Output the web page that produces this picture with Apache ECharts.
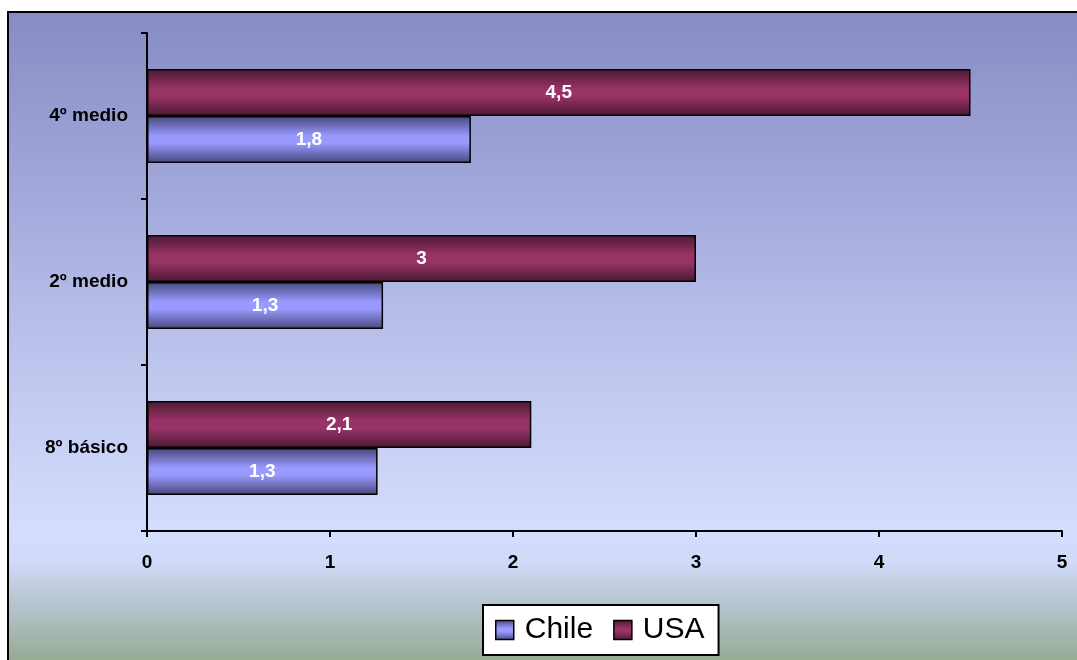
<!DOCTYPE html>
<html>
<head>
<meta charset="utf-8">
<script src="https://cdn.jsdelivr.net/npm/echarts@6/dist/echarts.min.js"></script>
<style>
html,body{margin:0;padding:0;background:#fff;}
#c{width:1077px;height:660px;}
</style>
</head>
<body>
<div id="c"></div>
<script>
var categories = ['8º básico', '2º medio', '4º medio'];
var chileValues = [1.26, 1.29, 1.77];
var usaValues = [2.1, 3.0, 4.5];
var xTicks = [0, 1, 2, 3, 4, 5];

function fmt(v) {
  return String(Number(v.toFixed(1))).replace('.', ',');
}
function barGrad(edge, mid) {
  return new echarts.graphic.LinearGradient(0, 0, 0, 1, [
    {offset: 0, color: edge},
    {offset: 0.42, color: mid},
    {offset: 0.58, color: mid},
    {offset: 1, color: edge}
  ]);
}
var chileColor = barGrad('#46467a', '#9999ff');
var usaColor = barGrad('#4a1a33', '#993366');
var FONT = 'Liberation Sans, Arial, sans-serif';

var chart = echarts.init(document.getElementById('c'));
var labelStyle = {
  show: true, position: 'inside', color: '#ffffff',
  fontFamily: FONT, fontWeight: 'bold', fontSize: 19,
  formatter: function (p) { return fmt(p.value); }
};
chart.setOption({
  animation: false,
  graphic: [{
    type: 'rect', z: -10, silent: true,
    shape: {x: 8, y: 12, width: 1075, height: 650},
    style: {
      fill: new echarts.graphic.LinearGradient(0, 0, 0, 1, [
        {offset: 0, color: '#878cc4'},
        {offset: 0.032, color: '#8a8fc7'},
        {offset: 0.29, color: '#a3a9db'},
        {offset: 0.545, color: '#bec6ee'},
        {offset: 0.80, color: '#d4ddfd'},
        {offset: 0.846, color: '#d0d9f8'},
        {offset: 0.907, color: '#b7c5cf'},
        {offset: 1, color: '#96aa92'}
      ]),
      stroke: '#000', lineWidth: 2
    }
  }],
  grid: {left: 147, right: 15, top: 33, bottom: 129, containLabel: false},
  legend: {
    data: ['Chile', 'USA'],
    left: 483, top: 605, width: 239, height: 52,
    backgroundColor: '#ffffff', borderColor: '#000', borderWidth: 2,
    padding: [10, 14, 10, 12],
    itemWidth: 18, itemHeight: 19, itemGap: 20,
    icon: 'rect',
    textStyle: {fontFamily: FONT, fontSize: 30, color: '#000', padding: [0, 0, 0, 6]},
    itemStyle: {borderColor: '#000', borderWidth: 1.5}
  },
  xAxis: {
    type: 'value', min: 0, max: 5, interval: 1,
    axisLine: {show: true, lineStyle: {color: '#000', width: 2}},
    axisTick: {show: true, length: 6, lineStyle: {color: '#000', width: 2}},
    splitLine: {show: false},
    axisLabel: {
      margin: 22, color: '#000', fontFamily: FONT, fontWeight: 'bold', fontSize: 19,
      formatter: function (v) { return xTicks.indexOf(v) >= 0 ? String(v) : ''; }
    }
  },
  yAxis: {
    type: 'category', data: categories,
    axisLine: {show: true, lineStyle: {color: '#000', width: 2}},
    axisTick: {show: true, length: 6, lineStyle: {color: '#000', width: 2}},
    axisLabel: {margin: 19, color: '#000', fontFamily: FONT, fontWeight: 'bold', fontSize: 19}
  },
  series: [
    {
      name: 'USA', type: 'bar', data: usaValues,
      barWidth: 47, barGap: '0%',
      itemStyle: {color: usaColor, borderColor: '#000', borderWidth: 1.5},
      label: labelStyle
    },
    {
      name: 'Chile', type: 'bar', data: chileValues,
      barWidth: 47, barGap: '0%',
      itemStyle: {color: chileColor, borderColor: '#000', borderWidth: 1.5},
      label: labelStyle
    }
  ]
});
</script>
</body>
</html>
